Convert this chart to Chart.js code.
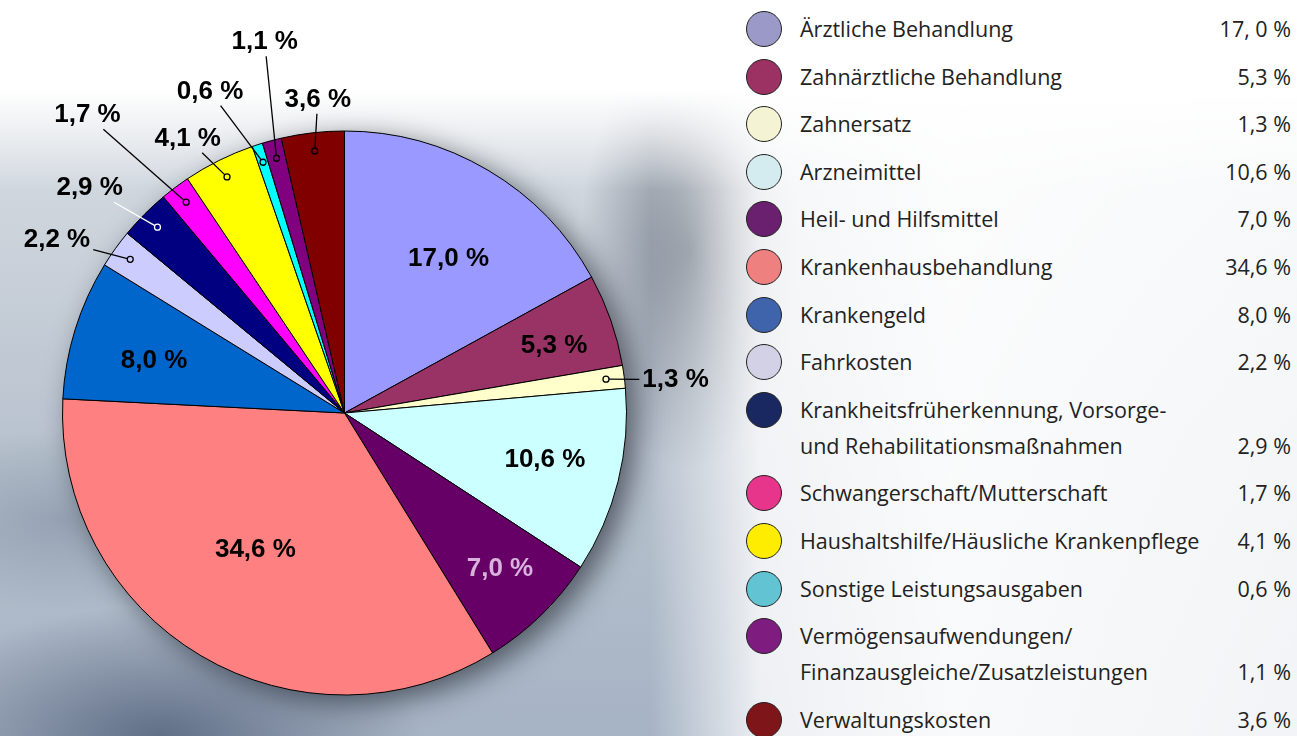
<!DOCTYPE html>
<html lang="de">
<head>
  <meta charset="UTF-8">
  <title>Leistungsausgaben</title>
  <script src="https://cdn.jsdelivr.net/npm/chart.js@4.4.7/dist/chart.umd.min.js"></script>
  <style>
    * { margin: 0; padding: 0; box-sizing: border-box; }
    html, body { width: 1297px; height: 736px; overflow: hidden; }
    body {
      position: relative;
      font-family: 'Open Sans', 'Noto Sans', sans-serif;
      background:
        linear-gradient(90deg, rgba(255,255,255,0) 0px, rgba(255,255,255,0) 650px, rgba(255,255,255,0.8) 760px, rgba(255,255,255,0.93) 950px, rgba(255,255,255,0.85) 1297px),
        linear-gradient(180deg, #ffffff 0px, #ffffff 90px, rgba(255,255,255,0) 190px),
        radial-gradient(ellipse 110px 220px at 690px 250px, rgba(55,65,80,0.55), rgba(55,65,80,0)),
        radial-gradient(ellipse 260px 130px at 160px 736px, rgba(40,55,85,0.55), rgba(40,55,85,0)),
        radial-gradient(ellipse 180px 90px at 60px 520px, rgba(120,135,155,0.5), rgba(120,135,155,0)),
        linear-gradient(180deg, #d3d9e0 150px, #b8c2ce 450px, #a6b3c4 736px);
    }
    .chart-box {
      position: absolute;
      left: 0; top: 0;
      width: 740px; height: 736px;
    }
    .legend {
      position: absolute;
      left: 746px; top: 5px;
      width: 545px;
    }
    .legend-item {
      position: relative;
      display: flex;
      justify-content: space-between;
      align-items: flex-end;
      padding: 6px 0 5.6px 54px;
      line-height: 36px;
      font-size: 21.5px;
      color: #222;
    }
    .legend-dot {
      position: absolute;
      left: 0; top: 6px;
      width: 36px; height: 36px;
      border-radius: 50%;
      border: 1.5px solid #222;
    }
    .legend-label { white-space: pre-line; }
    .legend-value { white-space: nowrap; }
  </style>
</head>
<body>
  <div class="chart-box"><canvas id="pieChart"></canvas></div>
  <div class="legend" id="legend"></div>

  <script>
    const categories = [
      'Ärztliche Behandlung',
      'Zahnärztliche Behandlung',
      'Zahnersatz',
      'Arzneimittel',
      'Heil- und Hilfsmittel',
      'Krankenhausbehandlung',
      'Krankengeld',
      'Fahrkosten',
      'Krankheitsfrüherkennung, Vorsorge-\nund Rehabilitationsmaßnahmen',
      'Schwangerschaft/Mutterschaft',
      'Haushaltshilfe/Häusliche Krankenpflege',
      'Sonstige Leistungsausgaben',
      'Vermögensaufwendungen/\nFinanzausgleiche/Zusatzleistungen',
      'Verwaltungskosten'
    ];
    const values = [17.0, 5.3, 1.3, 10.6, 7.0, 34.6, 8.0, 2.2, 2.9, 1.7, 4.1, 0.6, 1.1, 3.6];
    const legendValueLabels = ['17, 0 %', '5,3 %', '1,3 %', '10,6 %', '7,0 %', '34,6 %', '8,0 %',
      '2,2 %', '2,9 %', '1,7 %', '4,1 %', '0,6 %', '1,1 %', '3,6 %'];

    // Farben der Tortenstücke (Excel-Palette) und der Legendenpunkte
    const sliceColors = ['#9999FF', '#993366', '#FFFFCC', '#CCFFFF', '#660066', '#FF8080', '#0066CC',
      '#CCCCFF', '#000080', '#FF00FF', '#FFFF00', '#00FFFF', '#800080', '#800000'];
    const legendColors = ['#9B99C8', '#9B3263', '#F4F4D4', '#D4ECEF', '#6B206F', '#EF8080', '#4064AC',
      '#D3D1E5', '#1A2862', '#E6358B', '#FFED00', '#62C3D3', '#7E1C80', '#7E1619'];

    // Beschriftung: [Winkelversatz in Grad, Radius-Faktor, außen?]
    const labelPlace = [
      [3.4, 0.66, false], [1.6, 0.78, false], [1.6, 1.18, true], [-0.8, 0.73, false],
      [-0.7, 0.78, false], [2.4, 0.58, false], [-2.0, 0.70, false], [-4.6, 1.19, true],
      [-3.4, 1.205, true], [-3.9, 1.395, true], [-3.3, 1.12, true], [-4.7, 1.235, true],
      [2.8, 1.345, true], [1.6, 1.115, true]
    ];
    const labelColor = i => (i === 4 ? '#D8B2DC' : '#000');
    const leaderColor = i => (i === 8 ? '#fff' : '#000');

    const fmt = v => v.toFixed(1).replace('.', ',') + ' %';

    const pieShadow = {
      id: 'pieShadow',
      beforeDatasetsDraw(chart) {
        const arc = chart.getDatasetMeta(0).data[0];
        if (!arc) return;
        const ctx = chart.ctx;
        ctx.save();
        ctx.shadowColor = 'rgba(20,25,35,0.6)';
        ctx.shadowBlur = 28;
        ctx.shadowOffsetX = 10;
        ctx.shadowOffsetY = 8;
        ctx.fillStyle = '#888';
        ctx.beginPath();
        ctx.arc(arc.x, arc.y, arc.outerRadius, 0, Math.PI * 2);
        ctx.fill();
        ctx.restore();
      }
    };

    const sliceLabels = {
      id: 'sliceLabels',
      afterDatasetsDraw(chart) {
        const ctx = chart.ctx;
        const meta = chart.getDatasetMeta(0);
        ctx.save();
        ctx.font = 'bold 26px "Liberation Sans", Arial, sans-serif';
        ctx.textAlign = 'center';
        ctx.textBaseline = 'middle';
        meta.data.forEach((arc, i) => {
          const mid = (arc.startAngle + arc.endAngle) / 2;
          const [off, rf, outside] = labelPlace[i];
          const a = mid + off * Math.PI / 180;
          const tx = arc.x + Math.cos(a) * arc.outerRadius * rf;
          const ty = arc.y + Math.sin(a) * arc.outerRadius * rf;
          const text = fmt(values[i]);
          if (outside) {
            const dx = arc.x + Math.cos(mid) * arc.outerRadius * 0.935;
            const dy = arc.y + Math.sin(mid) * arc.outerRadius * 0.935;
            const hw = ctx.measureText(text).width / 2 + 3;
            const hh = 14;
            const vx = dx - tx, vy = dy - ty;
            const t = Math.min(Math.abs(hw / vx || Infinity), Math.abs(hh / vy || Infinity));
            const ex = tx + vx * t, ey = ty + vy * t;
            const len = Math.hypot(dx - ex, dy - ey);
            ctx.strokeStyle = leaderColor(i);
            ctx.lineWidth = 1.3;
            ctx.beginPath();
            ctx.moveTo(ex, ey);
            ctx.lineTo(dx - (dx - ex) / len * 3, dy - (dy - ey) / len * 3);
            ctx.stroke();
            ctx.beginPath();
            ctx.arc(dx, dy, 3, 0, Math.PI * 2);
            ctx.stroke();
          }
          ctx.fillStyle = labelColor(i);
          ctx.fillText(text, tx, ty);
        });
        ctx.restore();
      }
    };

    new Chart(document.getElementById('pieChart'), {
      type: 'pie',
      data: {
        labels: categories,
        datasets: [{
          data: values,
          backgroundColor: sliceColors,
          borderColor: '#000',
          borderWidth: 1
        }]
      },
      options: {
        responsive: true,
        maintainAspectRatio: false,
        animation: false,
        layout: { padding: { left: 62, top: 130, right: 113, bottom: 40 } },
        plugins: {
          legend: { display: false },
          tooltip: { enabled: false }
        }
      },
      plugins: [pieShadow, sliceLabels]
    });

    // eigene Legende rechts
    const legendEl = document.getElementById('legend');
    categories.forEach((label, i) => {
      legendEl.innerHTML += '<div class="legend-item">' +
        '<span class="legend-dot" style="background:' + legendColors[i] + '"></span>' +
        '<span class="legend-label">' + label + '</span>' +
        '<span class="legend-value">' + legendValueLabels[i] + '</span>' +
      '</div>';
    });
  </script>
</body>
</html>
